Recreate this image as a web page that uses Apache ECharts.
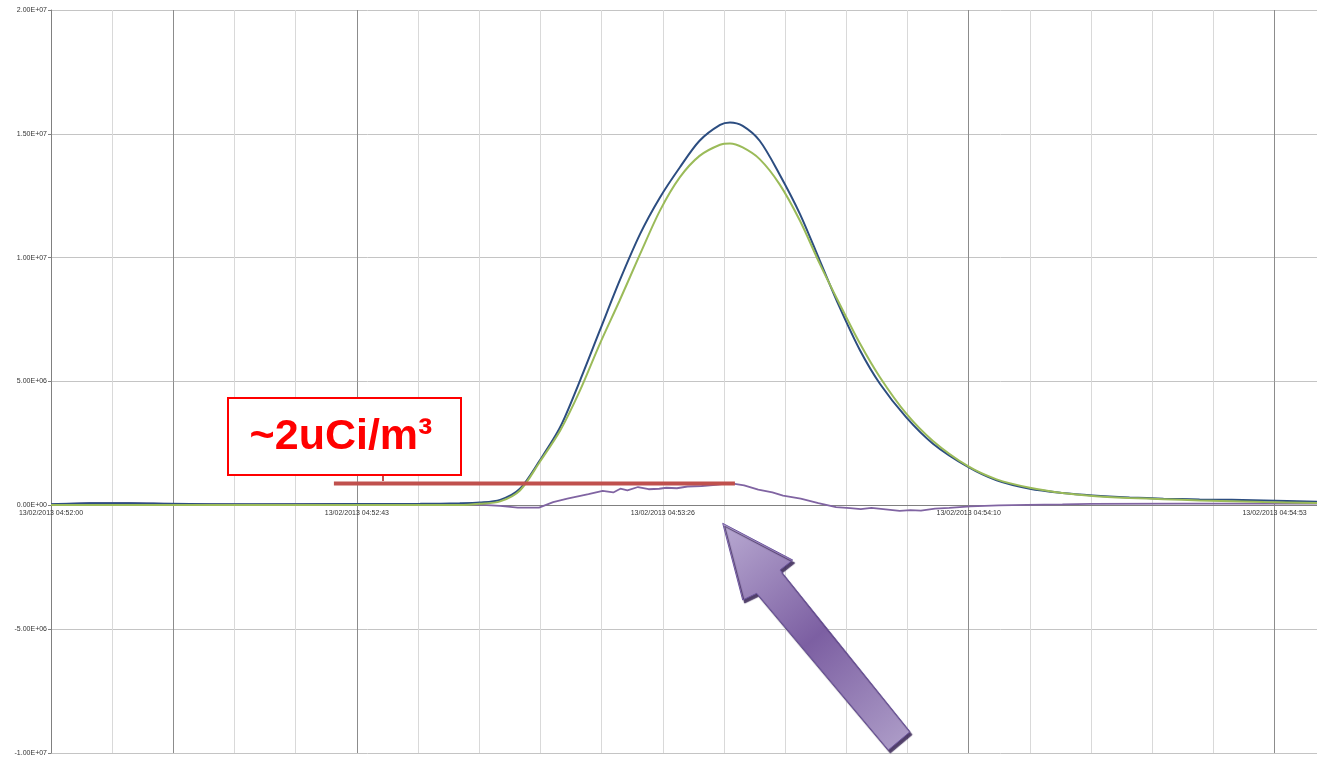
<!DOCTYPE html>
<html>
<head>
<meta charset="utf-8">
<script src="https://cdn.jsdelivr.net/npm/echarts@6/dist/echarts.min.js"></script>
<style>
html,body{margin:0;padding:0;background:#fff;}
#chart{width:1317px;height:758px;}
</style>
</head>
<body>
<div id="chart"></div>
<script>
// ---- data (time in seconds after 13/02/2013 04:52:00) ----
var xTickLabels = ['13/02/2013 04:52:00','13/02/2013 04:52:43','13/02/2013 04:53:26','13/02/2013 04:54:10','13/02/2013 04:54:53'];
var yTickLabels = ['-1.00E+07','-5.00E+06','0.00E+00','5.00E+06','1.00E+07','1.50E+07','2.00E+07'];

var times = [0,5.5,11.2,16.8,28.1,42.3,52.2,57.8,60.6,63.5,66.3,69.1,72.0,74.8,77.6,80.4,83.3,86.1,88.9,91.7,94.6,96.0,97.8,100.2,103.0,105.9,108.7,111.5,114.4,117.2,120.9,124.7,129.6,133.7,138.4,143.0,147.3,152.5,157.3,162.4,171.5,179];
var blueValues = [4e4,8e4,8e4,6e4,4e4,5e4,6e4,8e4,1.1e5,2.2e5,6.7e5,1.81e6,3.16e6,5.04e6,7.06e6,9.07e6,1.096e7,1.243e7,1.364e7,1.472e7,1.536e7,1.546e7,1.532e7,1.472e7,1.337e7,1.176e7,9.88e6,8.0e6,6.25e6,4.91e6,3.56e6,2.49e6,1.56e6,1.01e6,6.7e5,5.0e5,4.0e5,3.2e5,2.7e5,2.4e5,2.0e5,1.4e5];
var greenValues = [1e4,1e4,1e4,1e4,1e4,1e4,1e4,1e4,6e4,1.6e5,6.0e5,1.75e6,3.02e6,4.64e6,6.52e6,8.27e6,1.015e7,1.19e7,1.324e7,1.411e7,1.456e7,1.461e7,1.445e7,1.398e7,1.297e7,1.149e7,9.75e6,8.13e6,6.52e6,5.17e6,3.71e6,2.6e6,1.59e6,1.05e6,7.1e5,5.0e5,3.8e5,3.0e5,2.5e5,2.0e5,1.3e5,9e4];

var purpleTimes = [0,5.5,11,17,28,40,52,58,61,63.5,66,69,71,73,76,78,79.5,80.5,81.5,83,84.5,86,87,88.5,90,92,94,96,98,100,102,103.5,106,108.5,111,113,114.5,116,118,120,121.5,123,125,127,130,134,138,143,147,160,179];
var purpleValues = [4e4,9e4,9e4,6e4,4e4,6e4,6e4,6e4,2e4,-2e4,-9e4,-9e4,1.3e5,2.7e5,4.5e5,5.8e5,5.2e5,6.7e5,6.0e5,7.4e5,6.5e5,6.7e5,7.1e5,6.9e5,7.6e5,7.8e5,8.3e5,9.0e5,8.1e5,6.3e5,5.2e5,3.9e5,2.7e5,9e4,-7e4,-1.1e5,-1.5e5,-1.0e5,-1.6e5,-2.2e5,-1.9e5,-2.1e5,-1.3e5,-1.0e5,-4e4,0,2e4,4e4,6e4,7e4,7e4];

var levelTimes = [40, 96.7];
var levelValues = [8.8e5, 8.8e5];

var annotationText = '~2uCi/m\u00b3';

// ---- build ----
function pairs(xs, ys){ return xs.map(function(x,i){ return [x, ys[i]]; }); }
var X_INTERVAL = 8.65;
var Y_MIN = -1e7, Y_MAX = 2e7;
var GRID_TOP = 10, GRID_BOTTOM = 5, H = 758;
var gridH = H - GRID_TOP - GRID_BOTTOM;
var zeroOffset = -gridH * (0 - Y_MIN) / (Y_MAX - Y_MIN);

var darkIdx = {0:1,2:1,5:1,15:1,20:1};
var vColors = [];
for (var i=0;i<22;i++) vColors.push(darkIdx[i] ? '#8c8c8c' : '#d9d9d9');

var chart = echarts.init(document.getElementById('chart'));
chart.setOption({
  backgroundColor:'#ffffff',
  animation:false,
  grid:{left:51, right:0, top:GRID_TOP, bottom:GRID_BOTTOM, containLabel:false, outerBoundsMode:'none'},
  xAxis:{
    type:'value', min:0, max:179, interval:X_INTERVAL,
    position:'bottom', offset:zeroOffset,
    axisLine:{onZero:false, lineStyle:{color:'#808080', width:1}},
    axisTick:{show:false},
    axisLabel:{
      fontSize:7, color:'#333', fontFamily:'Liberation Sans', margin:4,
      showMaxLabel:false,
      formatter:function(v){
        var k = Math.round(v / X_INTERVAL);
        if (Math.abs(v - k*X_INTERVAL) > 0.01) return '';
        if (k % 5 !== 0) return '';
        return xTickLabels[k/5] || '';
      }
    },
    splitLine:{show:true, lineStyle:{color:vColors, width:1}}
  },
  yAxis:{
    type:'value', min:Y_MIN, max:Y_MAX, interval:5e6,
    axisLine:{show:true, lineStyle:{color:'#808080'}},
    axisTick:{show:true, length:3, lineStyle:{color:'#808080'}},
    axisLabel:{
      fontSize:7, color:'#333', fontFamily:'Liberation Sans', margin:4,
      formatter:function(v){ var k = Math.round((v - Y_MIN)/5e6); return yTickLabels[k] || ''; }
    },
    splitLine:{show:true, lineStyle:{color:'#c4c4c4', width:1}}
  },
  series:[
    {type:'line', data:pairs(purpleTimes, purpleValues), showSymbol:false, lineStyle:{color:'#8064A2', width:1.8}, z:3},
    {type:'line', data:pairs(times, blueValues), showSymbol:false, smooth:0.3, lineStyle:{color:'#2c4d80', width:2}, z:4},
    {type:'line', data:pairs(times, greenValues), showSymbol:false, smooth:0.3, lineStyle:{color:'#9BBB59', width:2}, z:5},
    {type:'line', data:pairs(levelTimes, levelValues), showSymbol:false, lineStyle:{color:'#C0504D', width:4}, z:6}
  ],
  graphic:[
    {type:'line', shape:{x1:383, y1:475, x2:383, y2:481}, style:{stroke:'#C0504D', lineWidth:2}, z:100},
    {type:'rect', shape:{x:228, y:398, width:233, height:77}, style:{fill:'#ffffff', stroke:'#ff0000', lineWidth:2}, z:100},
    {type:'text', x:341, y:437, style:{text:annotationText, fill:'#ff0000', font:'bold 43px "Liberation Sans"', textAlign:'center', textVerticalAlign:'middle'}, z:101},
    {type:'polygon', z:100,
      shape:{points:[[722.7,523.3],[792.7,560],[780,570],[910,731.7],[888.3,750],[756.7,593.3],[742.7,600]]},
      style:{
        fill:new echarts.graphic.LinearGradient(0,0,1,1,[
          {offset:0,color:'#b9aad2'},{offset:0.5,color:'#7c5fa2'},{offset:1,color:'#b0a0ca'}
        ]),
        stroke:'#6f58a0', lineWidth:1,
        shadowColor:'rgba(50,30,80,0.85)', shadowBlur:1, shadowOffsetX:2, shadowOffsetY:3
      }
    }
  ]
});
</script>
</body>
</html>
